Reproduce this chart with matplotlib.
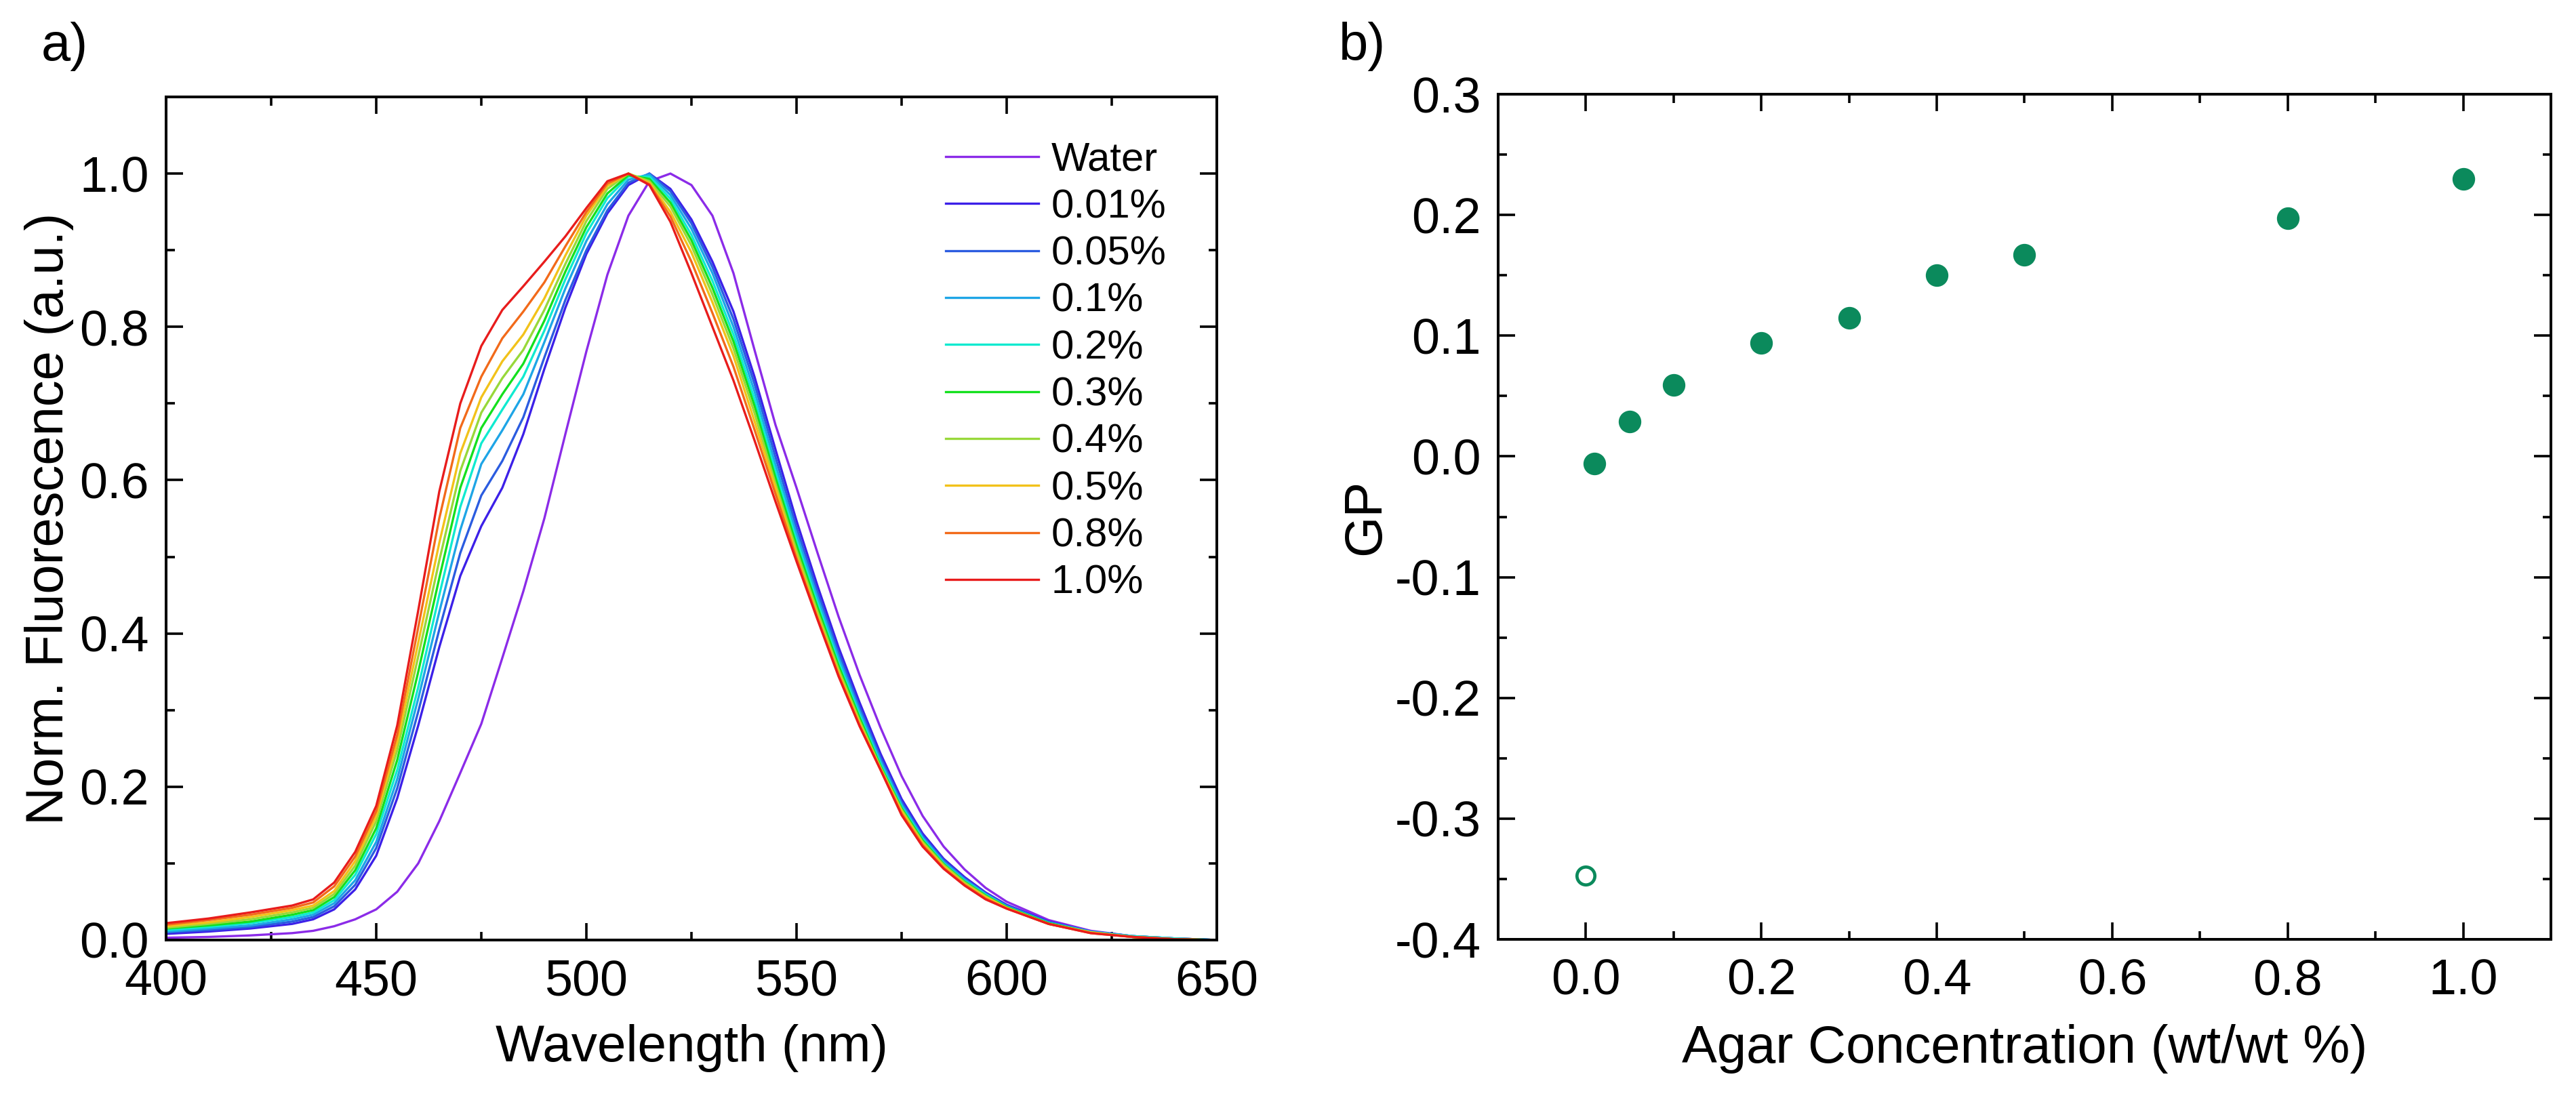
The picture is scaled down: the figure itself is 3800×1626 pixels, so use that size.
import numpy as np
import matplotlib.pyplot as plt
from matplotlib.ticker import MultipleLocator, FormatStrFormatter

plt.rcParams['font.family'] = ['Liberation Sans', 'DejaVu Sans']
plt.rcParams['axes.unicode_minus'] = False

# ---- panel a: normalised emission spectra ----
wavelength = [400, 410, 420, 430, 435, 440, 445, 450, 455, 460, 465, 470, 475, 480,
              485, 490, 495, 500, 505, 510, 515, 520, 525, 530, 535, 540, 545, 550,
              555, 560, 565, 570, 575, 580, 585, 590, 595, 600, 610, 620, 630, 640, 650]

water = [.003, .004, .006, .009, .012, .018, .027, .040, .063, .100, .155, .218, .282, .368,
         .455, .550, .660, .768, .868, .945, .990, 1.0, .985, .945, .870, .770, .672, .590,
         .505, .422, .346, .277, .214, .162, .122, .092, .068, .050, .026, .012, .005, .002, 0]
agar_001 = [.008, .011, .015, .021, .027, .040, .066, .110, .185, .280, .382, .475, .540, .590,
            .660, .745, .825, .895, .948, .985, 1.0, .980, .940, .885, .820, .735, .640, .547,
            .462, .382, .310, .243, .184, .139, .106, .082, .062, .046, .024, .011, .005, .002, 0]
agar_005 = [.010, .013, .017, .024, .030, .044, .072, .120, .198, .298, .405, .505, .580, .625,
            .682, .760, .835, .900, .952, .988, 1.0, .977, .935, .878, .810, .726, .630, .538,
            .454, .375, .304, .238, .180, .136, .104, .080, .061, .045, .023, .011, .005, .002, 0]
agar_01 = [.011, .015, .019, .027, .033, .048, .078, .128, .210, .315, .428, .535, .621, .665,
           .712, .780, .850, .912, .960, .992, .999, .972, .928, .870, .800, .716, .620, .530,
           .447, .369, .299, .234, .177, .134, .102, .079, .060, .044, .023, .011, .005, .002, 0]
agar_02 = [.013, .017, .022, .030, .036, .052, .085, .138, .222, .330, .450, .565, .648, .692,
           .735, .795, .862, .922, .968, .996, .996, .967, .920, .860, .790, .706, .611, .522,
           .440, .363, .294, .230, .174, .132, .100, .077, .059, .043, .022, .010, .005, .002, 0]
agar_03 = [.015, .019, .024, .033, .039, .056, .091, .146, .235, .350, .472, .590, .668, .712,
           .752, .808, .872, .930, .974, .998, .993, .962, .913, .851, .781, .697, .603, .515,
           .434, .358, .290, .227, .172, .130, .099, .076, .058, .043, .022, .010, .004, .001, 0]
agar_04 = [.016, .021, .027, .036, .042, .060, .097, .155, .248, .370, .495, .612, .688, .733,
           .770, .822, .882, .938, .980, 1.0, .990, .957, .906, .842, .772, .688, .595, .508,
           .428, .353, .286, .225, .170, .128, .098, .075, .057, .042, .021, .010, .004, .001, 0]
agar_05 = [.018, .023, .030, .039, .045, .064, .103, .162, .258, .388, .518, .635, .708, .755,
           .790, .837, .893, .945, .984, 1.0, .988, .950, .897, .832, .762, .677, .590, .502,
           .423, .349, .283, .223, .168, .126, .096, .073, .056, .042, .021, .010, .004, .001, 0]
agar_08 = [.020, .026, .033, .042, .049, .070, .109, .168, .268, .408, .550, .668, .735, .785,
           .820, .858, .905, .950, .987, 1.0, .986, .944, .885, .818, .748, .666, .582, .498,
           .420, .346, .280, .222, .165, .124, .094, .072, .054, .041, .021, .009, .004, .001, 0]
agar_10 = [.022, .028, .036, .045, .053, .075, .115, .175, .280, .430, .585, .700, .775, .822,
           .853, .885, .918, .955, .990, 1.0, .985, .937, .870, .800, .730, .652, .572, .494,
           .418, .344, .279, .222, .163, .122, .093, .071, .053, .041, .021, .009, .004, .001, 0]

spectra = [water, agar_001, agar_005, agar_01, agar_02, agar_03, agar_04, agar_05, agar_08, agar_10]
labels = ['Water', '0.01%', '0.05%', '0.1%', '0.2%', '0.3%', '0.4%', '0.5%', '0.8%', '1.0%']
colors = ['#8b2be8', '#3c20e8', '#2b5ce0', '#1ea5e6', '#10ead0',
          '#14e01e', '#98d83a', '#f2c21a', '#f26a1a', '#e81c1c']

# ---- panel b: GP vs agar concentration ----
conc_water = [0.0]
gp_water = [-0.347]
conc = [0.01, 0.05, 0.1, 0.2, 0.3, 0.4, 0.5, 0.8, 1.0]
gp = [-0.006, 0.029, 0.059, 0.094, 0.115, 0.150, 0.167, 0.197, 0.230]
green = '#0b8a5c'

fig = plt.figure(figsize=(38, 16.26), dpi=100)
ax1 = fig.add_axes([0.06447, 0.14699, 0.40789, 0.76507])
ax2 = fig.add_axes([0.58158, 0.14760, 0.40868, 0.76691])

for y, lab, c in zip(spectra, labels, colors):
    ax1.plot(wavelength, y, color=c, lw=2.4, label=lab)

ax1.set_xlim(400, 650)
ax1.set_ylim(0, 1.1)
ax1.xaxis.set_major_locator(MultipleLocator(50))
ax1.xaxis.set_minor_locator(MultipleLocator(25))
ax1.yaxis.set_major_locator(MultipleLocator(0.2))
ax1.yaxis.set_minor_locator(MultipleLocator(0.1))
ax1.yaxis.set_major_formatter(FormatStrFormatter('%.1f'))
ax1.set_xlabel('Wavelength (nm)', fontsize=55)
ax1.set_ylabel('Norm. Fluorescence (a.u.)', fontsize=56)
ax1.xaxis.set_label_coords(0.5, -0.1)
ax1.yaxis.set_label_coords(-0.088, 0.5)
ax1.legend(loc='upper left', bbox_to_anchor=(0.742, 0.947), frameon=False, fontsize=43,
           handlelength=2.3, handletextpad=0.3, labelspacing=0.24,
           borderpad=0, borderaxespad=0)

ax2.plot(conc_water, gp_water, 'o', ms=19, mfc='white', mec=green, mew=3.4)
ax2.plot(conc, gp, 'o', ms=23, color=green, mew=1)
ax2.set_xlim(-0.1, 1.1)
ax2.set_ylim(-0.4, 0.3)
ax2.xaxis.set_major_locator(MultipleLocator(0.2))
ax2.xaxis.set_minor_locator(MultipleLocator(0.1))
ax2.yaxis.set_major_locator(MultipleLocator(0.1))
ax2.yaxis.set_minor_locator(MultipleLocator(0.05))
ax2.xaxis.set_major_formatter(FormatStrFormatter('%.1f'))
ax2.yaxis.set_major_formatter(FormatStrFormatter('%.1f'))
ax2.set_xlabel('Agar Concentration (wt/wt %)', fontsize=56)
ax2.set_ylabel('GP', fontsize=56)
ax2.xaxis.set_label_coords(0.5, -0.1)
ax2.yaxis.set_label_coords(-0.102, 0.5)

for ax in (ax1, ax2):
    for s in ax.spines.values():
        s.set_linewidth(2.9)
    ax.tick_params(which='both', direction='in', top=True, right=True, width=2.6)
    ax.tick_params(which='major', length=18)
    ax.tick_params(which='minor', length=9)
    ax.tick_params(axis='x', which='major', labelsize=53, pad=20)
    ax.tick_params(axis='y', which='major', labelsize=53, pad=18)

fig.text(0.016, 0.958, 'a)', fontsize=56, va='center', ha='left')
fig.text(0.5197, 0.958, 'b)', fontsize=56, va='center', ha='left')

fig.savefig('out.png', dpi=100)
